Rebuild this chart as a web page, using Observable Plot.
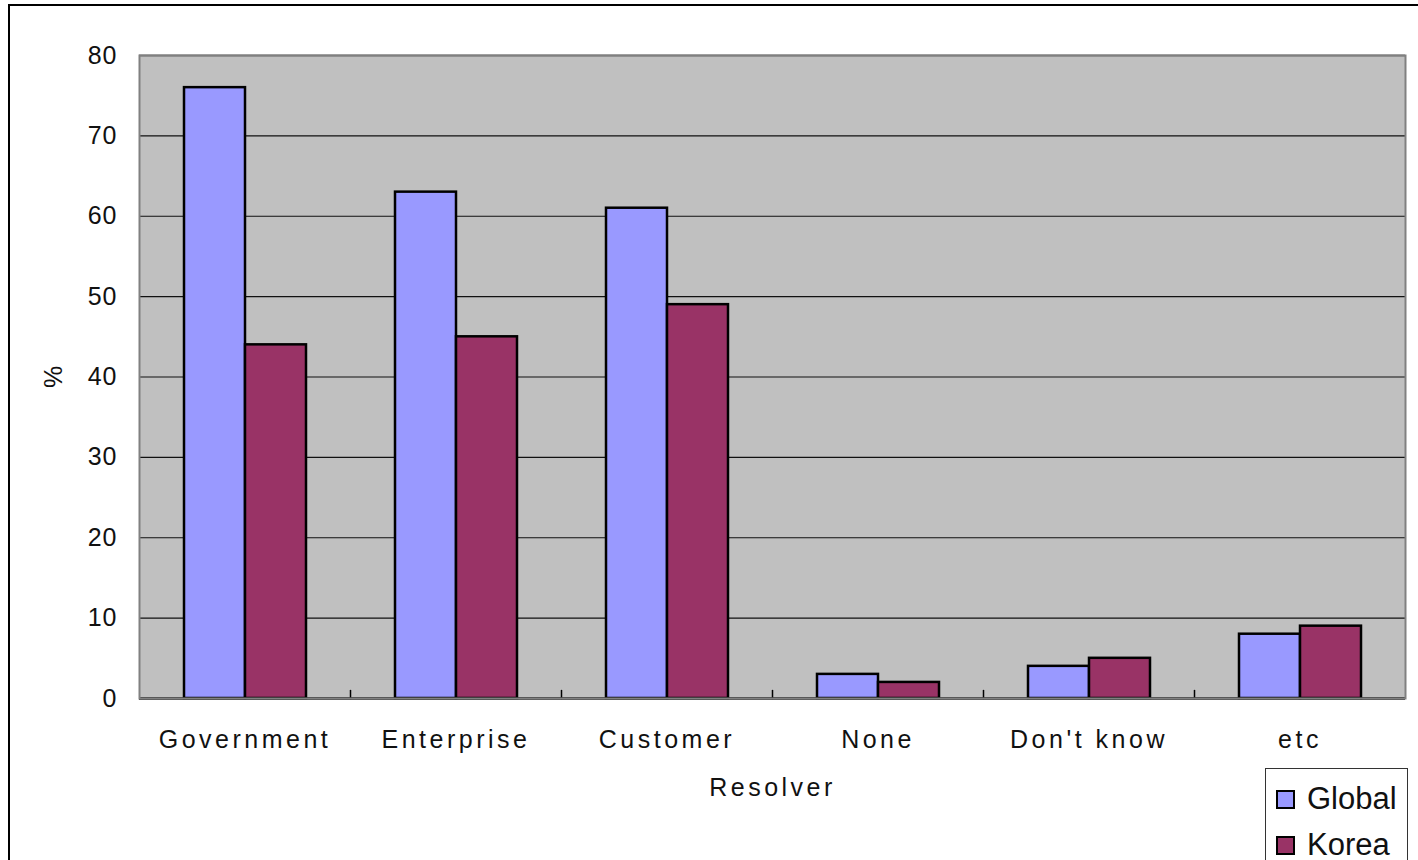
<!DOCTYPE html>
<html>
<head>
<meta charset="utf-8">
<script src="https://cdn.jsdelivr.net/npm/d3@7"></script>
<script src="https://cdn.jsdelivr.net/npm/@observablehq/plot@0.6"></script>
<style>
  html, body { margin: 0; padding: 0; background: #fff; overflow: hidden; width: 1418px; height: 860px; }
  #outer { position: absolute; left: 8px; top: 4px; width: 1600px; height: 1000px; border: 2px solid #000; box-sizing: border-box; }
  #chart { position: absolute; left: 0; top: 0; }
  #chart [aria-label="fx-axis tick label"], #chart [aria-label="fx-axis label"] { letter-spacing: 3.5px; }
  #chart [aria-label="y-axis tick label"] { letter-spacing: 1px; }
  #legend { position: absolute; left: 1265px; top: 768px; width: 143px; height: 120px; border: 1px solid #333; box-sizing: border-box; background: #fff; font-family: "Liberation Sans", Arial, sans-serif; }
  .item { position: absolute; left: 10px; height: 36px; display: flex; align-items: center; font-size: 31px; color: #111; }
  .sw { width: 15px; height: 15px; border: 2px solid #000; margin-right: 12px; }
</style>
</head>
<body>
<div id="outer"></div>
<div id="chart"></div>
<div id="legend"></div>
<script>
const categories = ["Government", "Enterprise", "Customer", "None", "Don't know", "etc"];
const series = ["Global", "Korea"];
const globalValues = [76, 63, 61, 3, 4, 8];
const koreaValues = [44, 45, 49, 2, 5, 9];
const colors = ["#9999FF", "#993366"];
const yTicks = [0, 10, 20, 30, 40, 50, 60, 70, 80];
const gridValues = [10, 20, 30, 40, 50, 60, 70];

const data = [];
categories.forEach((c, i) => {
  data.push({category: c, series: "Global", value: globalValues[i]});
  data.push({category: c, series: "Korea", value: koreaValues[i]});
});

const tickShape = { draw(context, l) { context.moveTo(0, 0); context.lineTo(0, -l); } };

const chart = Plot.plot({
  width: 1418,
  height: 860,
  marginLeft: 137,
  marginRight: 12,
  marginTop: 55,
  marginBottom: 162,
  style: { fontFamily: "Liberation Sans, Arial, sans-serif", background: "transparent", color: "#111" },
  fx: { domain: categories, padding: 0 },
  x: { domain: series, paddingInner: 0, paddingOuter: 0.71, axis: null },
  y: { domain: [0, 80] },
  color: { domain: series, range: colors },
  marks: [
    Plot.frame({ facet: "super", fill: "#C0C0C0", stroke: null }),
    Plot.ruleY(gridValues, { stroke: "#111", strokeWidth: 1.2 }),
    Plot.barY(data, { fx: "category", x: "series", y: "value", fill: "series", stroke: "#000", strokeWidth: 2.5 }),
    Plot.vector(categories.slice(1), { fx: d => d, frameAnchor: "bottom-left", length: 8, rotate: 0, anchor: "start", shape: tickShape, stroke: "#000", strokeWidth: 1.5 }),
    Plot.ruleY([80], { stroke: "#808080", strokeWidth: 2 }),
    Plot.ruleY([0], { stroke: "#000", strokeWidth: 2.5 }),
    Plot.frame({ facet: "super", stroke: "#808080", strokeWidth: 2, fill: null }),
    Plot.axisY({ ticks: yTicks, tickSize: 0, tickPadding: 22, fontSize: 25, label: "%", labelAnchor: "center", labelOffset: 95, labelArrow: "none" }),
    Plot.axisFx({ anchor: "bottom", tickSize: 0, tickPadding: 32, fontSize: 25, label: "Resolver", labelAnchor: "center", labelOffset: 97, labelArrow: "none" })
  ]
});
document.getElementById("chart").appendChild(chart);

const legend = document.getElementById("legend");
series.forEach((s, i) => {
  const item = document.createElement("div");
  item.className = "item";
  item.style.top = (i === 0 ? 12 : 58) + "px";
  const sw = document.createElement("div");
  sw.className = "sw";
  sw.style.background = colors[i];
  item.appendChild(sw);
  item.appendChild(document.createTextNode(s));
  legend.appendChild(item);
});
</script>
</body>
</html>
